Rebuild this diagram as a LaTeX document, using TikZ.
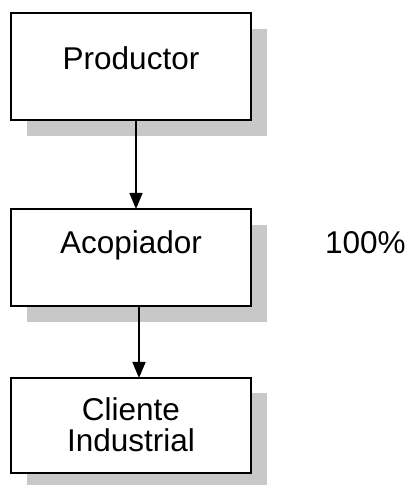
\documentclass[tikz,border=0pt]{standalone}
\usepackage{fontspec}
\setmainfont{Liberation Sans}
\usetikzlibrary{arrows.meta}
\definecolor{shadowgray}{HTML}{C8C8C8}
\tikzset{
  box/.style={draw=black, line width=1.6pt, fill=white, minimum width=240pt, anchor=north west, inner sep=0pt, outer sep=0pt},
  shade/.style={fill=shadowgray, draw=none, minimum width=240pt, anchor=north west, inner sep=0pt, outer sep=0pt},
  lbl/.style={font=\fontsize{31.5}{36}\selectfont, inner sep=0pt},
  conn/.style={line width=1.6pt, -{Triangle[length=16pt,width=13pt]}}
}
\begin{document}
\begin{tikzpicture}[x=1pt,y=1pt]
\useasboundingbox (0,0) rectangle (412,485);
% shadows
\node[shade, minimum height=107pt] (s1) at (27,485-29) {};
\node[shade, minimum height=97pt] (s2) at (27,485-225) {};
\node[shade, minimum height=92pt] (s3) at (27,485-393) {};
% boxes
\node[box, minimum height=107pt] (b1) at (11,485-13) {};
\node[box, minimum height=97pt] (b2) at (11,485-209) {};
\node[box, minimum height=95pt] (b3) at (11,485-378) {};
\node[lbl, anchor=base] (tp) at (131,485-69.5) {Productor};
\node[lbl, anchor=base] (ta) at (131,485-254) {Acopiador};
\node[lbl, anchor=base] (tc1) at (131,485-421) {Cliente};
\node[lbl, anchor=base] (tc2) at (131,485-451) {Industrial};
\node[lbl, anchor=base west] (pct) at (325,485-254) {100\%};
\draw[conn] (b1.south -| 136,0) -- (b2.north -| 136,0);
\draw[conn] (b2.south -| 139,0) -- (b3.north -| 139,0);
\end{tikzpicture}
\end{document}
